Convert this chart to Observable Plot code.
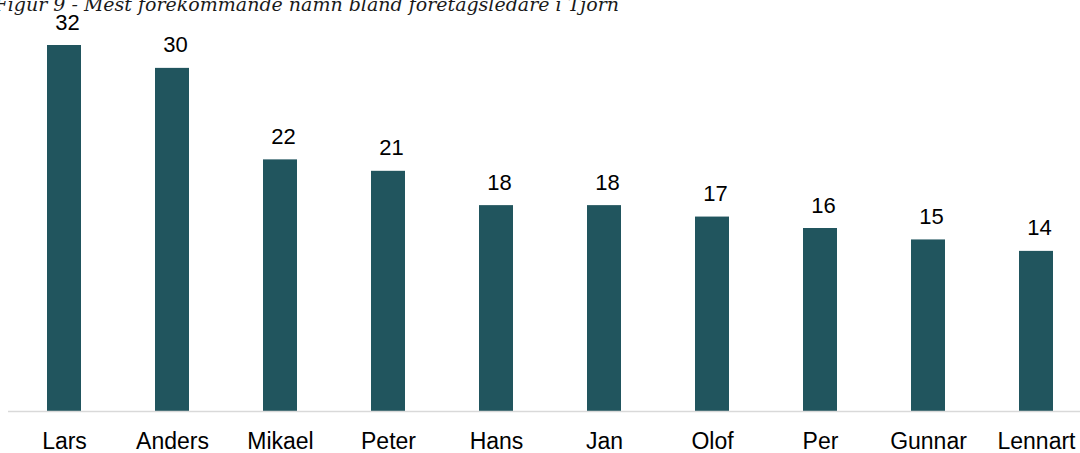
<!DOCTYPE html>
<html>
<head>
<meta charset="utf-8">
<script src="https://cdn.jsdelivr.net/npm/d3@7"></script>
<script src="https://cdn.jsdelivr.net/npm/@observablehq/plot@0.6"></script>
<style>
  html, body { margin: 0; padding: 0; background: #fff; overflow: hidden; }
  #wrap { position: relative; width: 1080px; height: 453px; overflow: hidden; }
  #title { position: absolute; right: 461px; top: -6px; text-align: right; font-family: "DejaVu Serif", serif; font-style: italic; font-size: 19px; white-space: nowrap; color: #1a1a1a; z-index: 2; line-height: 20px; }
</style>
</head>
<body>
<div id="wrap">
  <div id="title">Figur 9 - Mest förekommande namn bland företagsledare i Tjörn</div>
  <div id="chart"></div>
</div>
<script>
const names = ["Lars", "Anders", "Mikael", "Peter", "Hans", "Jan", "Olof", "Per", "Gunnar", "Lennart"];
const counts = [32, 30, 22, 21, 18, 18, 17, 16, 15, 14];
const data = names.map((n, i) => ({name: n, count: counts[i]}));

const chart = Plot.plot({
  width: 1080,
  height: 453,
  marginLeft: 8,
  marginRight: 0,
  marginTop: 0,
  marginBottom: 42,
  style: {fontFamily: "Liberation Sans, Arial, sans-serif", background: "transparent", overflow: "visible"},
  x: {domain: names, range: [8, 1092], paddingInner: 0.686, paddingOuter: 0.343, label: null},
  y: {domain: [0, 32], range: [411, 45], axis: null},
  marks: [
    Plot.barY(data, {x: "name", y: "count", fill: "#21555e"}),
    Plot.ruleY([0], {stroke: "#d9d9d9", strokeWidth: 1.5}),
    Plot.text(data, {x: "name", y: "count", text: d => String(d.count), dy: -16, dx: 3, lineAnchor: "bottom", fontSize: 22, fill: "#000"}),
    Plot.axisX({tickSize: 0, tickPadding: 21, fontSize: 23, label: null, fill: "#000"})
  ]
});
document.getElementById("chart").appendChild(chart);
</script>
</body>
</html>
